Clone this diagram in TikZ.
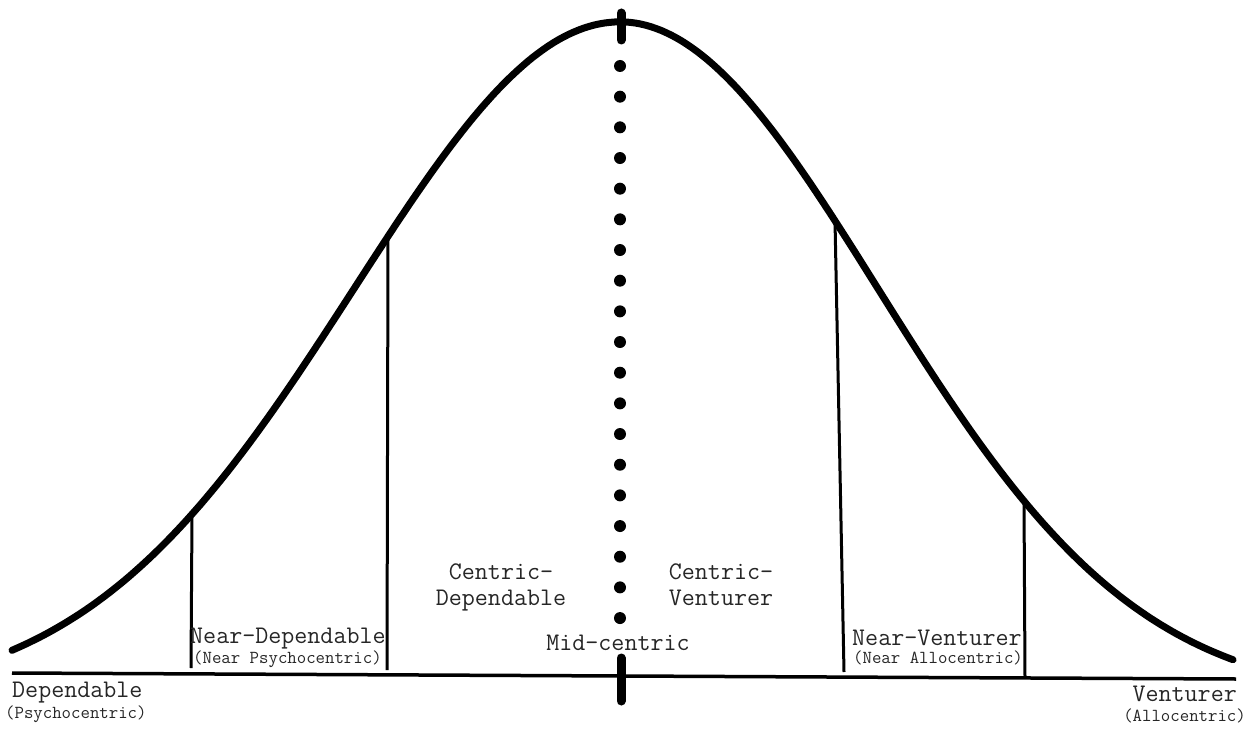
\documentclass[tikz,border=0pt]{standalone}
\usepackage{fontspec}
\begin{document}
\begin{tikzpicture}[x=1pt,y=-1pt,
  curve/.style={line width=7pt,line cap=round},
  axis/.style={line width=3.5pt},
  divider/.style={line width=3pt},
  tick/.style={line width=9pt,line cap=round},
  big/.style={font=\ttfamily\fontsize{25.3}{27}\selectfont,inner sep=0pt,text=black!85},
  small/.style={font=\ttfamily\fontsize{18.3}{20}\selectfont,inner sep=0pt,text=black!85}]
\useasboundingbox (0,0) rectangle (1255,730);
% bell curve
\draw[curve] plot[domain=12:620,samples=120] (\x,{700-678*exp(-((\x-620)/266)^2/2)})
  -- plot[domain=620:1233,samples=120] (\x,{700-678*exp(-((\x-620)/258)^2/2)});
% axis
\coordinate (axL) at (12,673);
\coordinate (axR) at (1236,679);
\draw[axis] (axL) -- (axR);
% dividers
\coordinate (d1t) at (192,{700-678*exp(-((192-620)/266)^2/2)});
\coordinate (d1b) at (191,668);
\coordinate (d2t) at (388,{700-678*exp(-((388-620)/266)^2/2)});
\coordinate (d2b) at (387,670);
\coordinate (d3t) at (835,{700-678*exp(-((835-620)/258)^2/2)});
\coordinate (d3b) at (844,672);
\coordinate (d4t) at (1024,{700-678*exp(-((1024-620)/258)^2/2)});
\coordinate (d4b) at (1025,678);
\draw[divider] (d1t) -- (d1b);
\draw[divider] (d2t) -- (d2b);
\draw[divider] (d3t) -- (d3b);
\draw[divider] (d4t) -- (d4b);
% center ticks
\coordinate (tt1) at (621,13);
\coordinate (tt2) at (621,40);
\coordinate (bt1) at (621,658);
\coordinate (bt2) at (621,701);
\draw[tick] (tt1) -- (tt2);
\draw[tick] (bt1) -- (bt2);
% dotted centre line
\foreach \i in {0,...,18} \fill (620,{66+\i*30.67}) circle (6pt);
% labels
\node[big,anchor=base west] (dep) at (12,697) {Dependable};
\node[small,anchor=base west] (psy) at (5,718) {(Psychocentric)};
\node[big,anchor=base west] (nd) at (190,643) {Near-Dependable};
\node[small,anchor=base west] (nps) at (193,663) {(Near Psychocentric)};
\node[big,anchor=base] (cd1) at (501,579) {Centric-};
\node[big,anchor=base] (cd2) at (501,605) {Dependable};
\node[big,anchor=base] (cv1) at (721,579) {Centric-};
\node[big,anchor=base] (cv2) at (721,605) {Venturer};
\node[big,anchor=base] (mid) at (618,650) {Mid-centric};
\node[big,anchor=base west] (nv) at (852,645) {Near-Venturer};
\node[small,anchor=base west] (nal) at (853,663) {(Near Allocentric)};
\node[big,anchor=base east] (ven) at (1237,701) {Venturer};
\node[small,anchor=base east] (all) at (1246,721) {(Allocentric)};
\end{tikzpicture}
\end{document}
